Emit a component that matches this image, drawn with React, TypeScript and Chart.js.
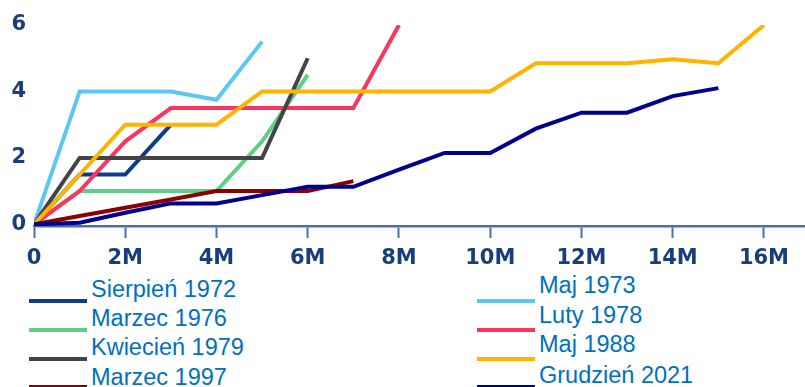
import React, { useEffect, useRef } from "react";
import { Chart, registerables } from "chart.js";

Chart.register(...registerables);

const months = [0, 1, 2, 3, 4, 5, 6, 7, 8, 9, 10, 11, 12, 13, 14, 15, 16];
const xTickValues = [0, 2, 4, 6, 8, 10, 12, 14, 16];
const xTickLabels = ["0", "2M", "4M", "6M", "8M", "10M", "12M", "14M", "16M"];
const yTickValues = [0, 2, 4, 6];

const seriesNames = [
  "Sierpień 1972",
  "Maj 1973",
  "Marzec 1976",
  "Luty 1978",
  "Kwiecień 1979",
  "Maj 1988",
  "Marzec 1997",
  "Grudzień 2021",
];

const sierpien1972 = [0, 1.5, 1.5, 3];
const maj1973 = [0, 4, 4, 4, 3.75, 5.5];
const marzec1976 = [0, 1, 1, 1, 1, 2.5, 4.5];
const luty1978 = [0, 1, 2.5, 3.5, 3.5, 3.5, 3.5, 3.5, 6];
const kwiecien1979 = [0, 2, 2, 2, 2, 2, 5];
const maj1988 = [0, 1.5, 3, 3, 3, 4, 4, 4, 4, 4, 4, 4.85, 4.85, 4.85, 4.97, 4.85, 6];
const marzec1997 = [0, 0.25, 0.5, 0.75, 1, 1, 1, 1.3];
const grudzien2021 = [0, 0.05, 0.35, 0.63, 0.63, 0.88, 1.13, 1.13, 1.65, 2.15, 2.15, 2.88, 3.36, 3.36, 3.86, 4.1];

const seriesValues = [
  sierpien1972,
  maj1973,
  marzec1976,
  luty1978,
  kwiecien1979,
  maj1988,
  marzec1997,
  grudzien2021,
];

const seriesColors = [
  "#0b3d8c",
  "#5cc8f2",
  "#5fcf85",
  "#f7375f",
  "#444444",
  "#ffb400",
  "#8b0000",
  "#00008f",
];

const AXIS_COLOR = "#4a70a6";
const TICK_COLOR = "#183f7c";
const TICK_FONT = { family: "'DejaVu Sans', sans-serif", size: 21, weight: "bold" as const };

// legend layout: column 1 holds even indices, column 2 odd indices
const legendCols = [
  { lineX: 29, textX: 91, baselines: [297, 326, 355, 385] },
  { lineX: 477, textX: 539, baselines: [293, 323, 352.5, 383] },
];
const legendLineYs = [298.7, 327.5, 357, 385];

export default function App() {
  const canvasRef = useRef<HTMLCanvasElement | null>(null);

  useEffect(() => {
    const canvas = canvasRef.current;
    if (!canvas) return;
    const datasets = seriesValues.map((vals, i) => ({
      label: seriesNames[i],
      data: vals.map((v, k) => ({ x: months[k], y: v })),
      borderColor: seriesColors[i],
      backgroundColor: seriesColors[i],
      borderWidth: 4,
      pointRadius: 0,
      tension: 0,
      fill: false,
      order: seriesValues.length - 1 - i,
    }));
    const chart = new Chart(canvas, {
      type: "line",
      data: { datasets },
      options: {
        animation: false,
        responsive: false,
        maintainAspectRatio: false,
        layout: { padding: { top: 25, right: 0, left: 0, bottom: 0 } },
        plugins: { legend: { display: false }, tooltip: { enabled: false } },
        scales: {
          x: {
            type: "linear",
            min: 0,
            max: 16.9,
            afterBuildTicks: (scale: any) => {
              scale.ticks = xTickValues.map((v) => ({ value: v }));
            },
            afterFit: (scale: any) => {
              scale.height = 44;
            },
            grid: {
              display: true,
              drawOnChartArea: false,
              drawTicks: true,
              tickLength: 12,
              tickWidth: 2,
              tickColor: AXIS_COLOR,
              color: AXIS_COLOR,
            },
            border: { display: true, color: AXIS_COLOR, width: 2.5 },
            ticks: {
              autoSkip: false,
              maxRotation: 0,
              padding: 8,
              color: TICK_COLOR,
              font: TICK_FONT,
              callback: (v: any) => {
                const idx = xTickValues.indexOf(Number(v));
                return idx >= 0 ? xTickLabels[idx] : "";
              },
            },
          },
          y: {
            type: "linear",
            min: -0.05,
            max: 6,
            afterBuildTicks: (scale: any) => {
              scale.ticks = yTickValues.map((v) => ({ value: v }));
            },
            afterFit: (scale: any) => {
              scale.width = 34;
            },
            grid: { display: false, drawTicks: false },
            border: { display: false },
            ticks: {
              padding: 8,
              color: TICK_COLOR,
              font: TICK_FONT,
              callback: (v: any) => String(v),
            },
          },
        },
      },
    });
    return () => chart.destroy();
  }, []);

  const legendItems = seriesNames.map((name, i) => {
    const col = legendCols[i % 2];
    const row = Math.floor(i / 2);
    return (
      <React.Fragment key={name}>
        <div
          style={{
            position: "absolute",
            left: col.lineX,
            top: legendLineYs[row],
            width: 58,
            height: 4,
            background: seriesColors[i],
          }}
        />
        <div
          style={{
            position: "absolute",
            left: col.textX,
            top: col.baselines[row] - 19.5,
            fontFamily: "'Liberation Sans', Arial, sans-serif",
            fontSize: 23.5,
            lineHeight: "23.5px",
            color: "#0070c0",
            whiteSpace: "nowrap",
          }}
        >
          {name}
        </div>
      </React.Fragment>
    );
  });

  return (
    <div
      style={{
        position: "fixed",
        left: 0,
        top: 0,
        width: 805,
        height: 387,
        overflow: "hidden",
        background: "#ffffff",
      }}
    >
      <canvas
        ref={canvasRef}
        width={805}
        height={270}
        style={{ position: "absolute", left: 0, top: 0, width: 805, height: 270 }}
      />
      {legendItems}
    </div>
  );
}
